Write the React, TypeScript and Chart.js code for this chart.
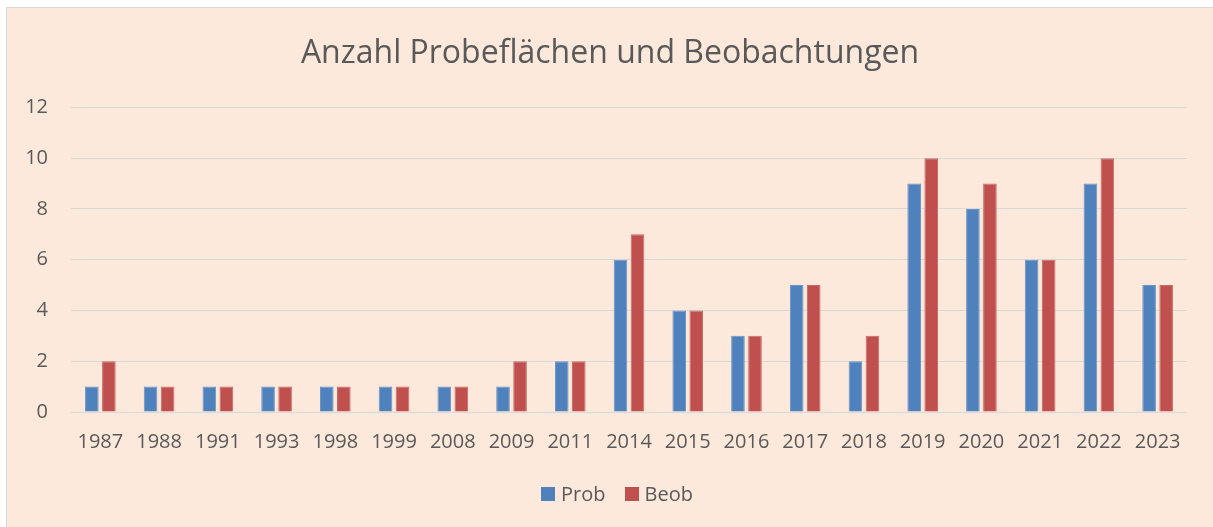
import React, { useEffect, useRef } from "react";
import { Chart, registerables } from "chart.js";

Chart.register(...registerables);

const categories = ["1987","1988","1991","1993","1998","1999","2008","2009","2011","2014","2015","2016","2017","2018","2019","2020","2021","2022","2023"];
const probValues = [1,1,1,1,1,1,1,1,2,6,4,3,5,2,9,8,6,9,5];
const beobValues = [2,1,1,1,1,1,1,2,2,7,4,3,5,3,10,9,6,10,5];
const seriesNames = ["Prob", "Beob"];
const seriesColors = ["#4F81BD", "#C0504D"];
const seriesBorders = ["#6A93C6", "#C96A67"];
const titleText = "Anzahl Probeflächen und Beobachtungen";

const FONT = "'Open Sans', 'Noto Sans', sans-serif";
const TEXT = "#595959";

// Legend drawn like the spreadsheet legend: small square, narrow gap, label
const customLegend = {
  id: "customLegend",
  afterDraw(chart: any) {
    const ctx = chart.ctx;
    const items = chart.data.datasets.map((d: any) => ({ label: d.label, color: d.backgroundColor }));
    ctx.save();
    ctx.font = `20px ${FONT}`;
    const box = 14, gap = 6, itemGap = 19;
    const widths = items.map((it: any) => box + gap + ctx.measureText(it.label).width);
    const total = widths.reduce((a: number, b: number) => a + b, 0) + itemGap * (items.length - 1);
    let x = chart.width / 2 + 7 - total / 2;
    const y = chart.height - 33;
    items.forEach((it: any, i: number) => {
      ctx.fillStyle = it.color;
      ctx.fillRect(Math.round(x), Math.round(y - 7), box, box);
      ctx.fillStyle = TEXT;
      ctx.textBaseline = "middle";
      ctx.textAlign = "left";
      ctx.fillText(it.label, x + box + gap, y + 1);
      x += widths[i] + itemGap;
    });
    ctx.restore();
  },
};

export default function App() {
  const ref = useRef<HTMLCanvasElement>(null);
  useEffect(() => {
    if (!ref.current) return;
    const chart = new Chart(ref.current, {
      type: "bar",
      data: {
        labels: categories,
        datasets: [
          { label: seriesNames[0], data: probValues, backgroundColor: seriesColors[0], borderColor: seriesBorders[0], borderWidth: 1 },
          { label: seriesNames[1], data: beobValues, backgroundColor: seriesColors[1], borderColor: seriesBorders[1], borderWidth: 1 },
        ],
      },
      plugins: [customLegend],
      options: {
        animation: false,
        responsive: true,
        maintainAspectRatio: false,
        datasets: { bar: { categoryPercentage: 0.58, barPercentage: 0.8 } },
        layout: { padding: { left: 13, right: 13, top: 27, bottom: 63 } },
        plugins: {
          title: {
            display: true,
            text: titleText,
            color: TEXT,
            font: { family: FONT, size: 32, weight: "normal" },
            padding: { top: 0, bottom: 34 },
          },
          legend: { display: false },
          tooltip: { enabled: false },
        },
        scales: {
          x: {
            grid: { display: false },
            border: { display: false },
            ticks: { color: TEXT, font: { family: FONT, size: 20 }, padding: 10, maxRotation: 0, autoSkip: false },
          },
          y: {
            min: 0,
            max: 12,
            afterFit: (s: any) => { s.width = 51; },
            grid: { color: "#D9D9D9", lineWidth: 1, drawTicks: false },
            border: { display: false },
            ticks: { stepSize: 2, color: TEXT, font: { family: FONT, size: 20 }, padding: 23 },
          },
          yRightSpace: {
            position: "right",
            display: true,
            afterFit: (s: any) => { s.width = 13; },
            grid: { display: false, drawTicks: false },
            border: { display: false },
            ticks: { display: false },
          },
        },
      },
    });
    return () => chart.destroy();
  }, []);
  return (
    <div
      style={{
        position: "fixed",
        left: 6,
        top: 7,
        right: 0,
        bottom: 0,
        background: "#FDE9DB",
        border: "1px solid #D9D9D9",
        borderRight: "none",
        borderBottom: "none",
      }}
    >
      <div style={{ position: "absolute", left: 0, top: 0, right: 0, bottom: 0 }}>
        <canvas ref={ref} />
      </div>
    </div>
  );
}
